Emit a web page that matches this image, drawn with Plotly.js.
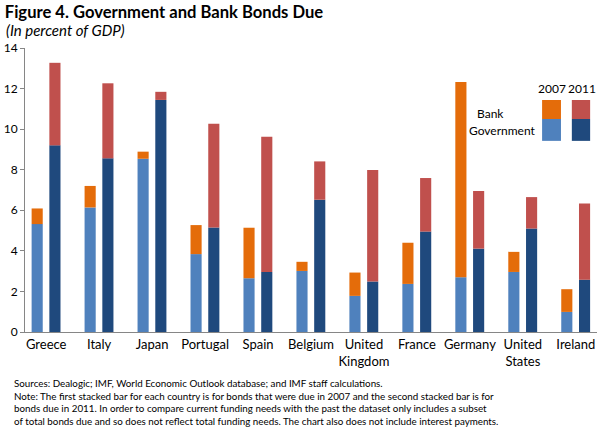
<!DOCTYPE html>
<html>
<head>
<meta charset="utf-8">
<script src="https://cdn.plot.ly/plotly-3.0.1.min.js"></script>
<style>
  html, body { margin: 0; padding: 0; background: #fff; }
  #chart { width: 598px; height: 439px; }
</style>
</head>
<body>
<div id="chart"></div>
<script>
var countries = ['Greece', 'Italy', 'Japan', 'Portugal', 'Spain', 'Belgium',
  'United<br>Kingdom', 'France', 'Germany', 'United<br>States', 'Ireland'];

// percent of GDP
var gov2007  = [5.32, 6.14, 8.54, 3.84, 2.65, 3.01, 1.78, 2.37, 2.70, 2.96, 0.99];
var bank2007 = [0.77, 1.06, 0.35, 1.43, 2.49, 0.45, 1.15, 2.03, 9.63, 0.99, 1.12];
var gov2011  = [9.20, 8.56, 11.44, 5.15, 2.96, 6.52, 2.49, 4.95, 4.11, 5.10, 2.58];
var bank2011 = [4.07, 3.70, 0.40, 5.12, 6.67, 1.89, 5.49, 2.64, 2.84, 1.55, 3.76];

var yTicks = [0, 2, 4, 6, 8, 10, 12, 14];

var colGov07 = '#4f81bd', colBank07 = '#e46c0a';
var colGov11 = '#1f497d', colBank11 = '#c0504d';

var barW = 0.21, off07 = -0.275, off11 = 0.06;

function bars(name, y, base, color, offset) {
  return {
    type: 'bar',
    name: name,
    x: countries,
    y: y,
    base: base,
    width: barW,
    offset: offset,
    marker: {color: color, line: {width: 0}},
    hoverinfo: 'y+name'
  };
}

var data = [
  bars('Government 2007', gov2007, 0, colGov07, off07),
  bars('Bank 2007', bank2007, gov2007, colBank07, off07),
  bars('Government 2011', gov2011, 0, colGov11, off11),
  bars('Bank 2011', bank2011, gov2011, colBank11, off11)
];

var txt = {family: 'Lato, "Open Sans", sans-serif', color: '#000'};

var layout = {
  width: 598,
  height: 439,
  barmode: 'overlay',
  showlegend: false,
  paper_bgcolor: '#fff',
  plot_bgcolor: '#fff',
  margin: {l: 25, r: 1, t: 48, b: 107},
  font: {family: txt.family, size: 13, color: '#000'},
  title: {
    text: '<b>Figure 4. Government and Bank Bonds Due</b>',
    xref: 'container', yref: 'container',
    x: 0.008, y: 0.972,
    xanchor: 'left', yanchor: 'middle',
    font: {family: txt.family, size: 16.6, color: '#000'}
  },
  xaxis: {
    type: 'category',
    range: [-0.4, 10.4],
    showline: true,
    linecolor: '#868686',
    linewidth: 1,
    ticks: '',
    showgrid: false,
    zeroline: false,
    tickfont: {family: txt.family, size: 13, color: '#000'}
  },
  yaxis: {
    range: [0, 14],
    tickvals: yTicks,
    ticktext: yTicks.map(String),
    showline: true,
    linecolor: '#868686',
    linewidth: 1,
    ticks: 'outside',
    ticklen: 4,
    tickcolor: '#868686',
    showgrid: false,
    zeroline: false,
    tickfont: {family: txt.family, size: 12, color: '#000'}
  },
  shapes: [
    {type: 'rect', xref: 'paper', yref: 'paper', x0: 0.904, x1: 0.937, y0: 0.75, y1: 0.817,
      fillcolor: colBank07, line: {width: 0}},
    {type: 'rect', xref: 'paper', yref: 'paper', x0: 0.904, x1: 0.937, y0: 0.673, y1: 0.75,
      fillcolor: colGov07, line: {width: 0}},
    {type: 'rect', xref: 'paper', yref: 'paper', x0: 0.956, x1: 0.988, y0: 0.75, y1: 0.817,
      fillcolor: colBank11, line: {width: 0}},
    {type: 'rect', xref: 'paper', yref: 'paper', x0: 0.956, x1: 0.988, y0: 0.673, y1: 0.75,
      fillcolor: colGov11, line: {width: 0}}
  ],
  annotations: [
    {xref: 'paper', yref: 'paper', x: -0.037, y: 1.064, xanchor: 'left', yanchor: 'middle',
      text: '<i>(In percent of GDP)</i>', showarrow: false,
      font: {family: txt.family, size: 15, color: '#000'}},
    {xref: 'paper', yref: 'paper', x: 0.9205, y: 0.859, xanchor: 'center', yanchor: 'middle',
      text: '2007', showarrow: false, font: {family: txt.family, size: 12, color: '#000'}},
    {xref: 'paper', yref: 'paper', x: 0.974, y: 0.859, xanchor: 'center', yanchor: 'middle',
      text: '2011', showarrow: false, font: {family: txt.family, size: 12, color: '#000'}},
    {xref: 'paper', yref: 'paper', x: 0.787, y: 0.768, xanchor: 'left', yanchor: 'middle',
      text: 'Bank', showarrow: false, font: {family: txt.family, size: 12, color: '#000'}},
    {xref: 'paper', yref: 'paper', x: 0.897, y: 0.708, xanchor: 'right', yanchor: 'middle',
      text: 'Government', showarrow: false, font: {family: txt.family, size: 12, color: '#000'}},
    {xref: 'paper', yref: 'paper', x: -0.022, y: -0.152, xanchor: 'left', yanchor: 'top',
      align: 'left', showarrow: false,
      font: {family: txt.family, size: 9.8, color: '#000'},
      text: 'Sources: Dealogic; IMF, World Economic Outlook database; and IMF staff calculations.<br>' +
        'Note: The first stacked bar for each country is for bonds that were due in 2007 and the second stacked bar is for<br>' +
        'bonds due in 2011. In order to compare current funding needs with the past the dataset only includes a subset<br>' +
        'of total bonds due and so does not reflect total funding needs. The chart also does not include interest payments.'}
  ]
};

Plotly.newPlot('chart', data, layout, {displayModeBar: false, staticPlot: true});
</script>
</body>
</html>
